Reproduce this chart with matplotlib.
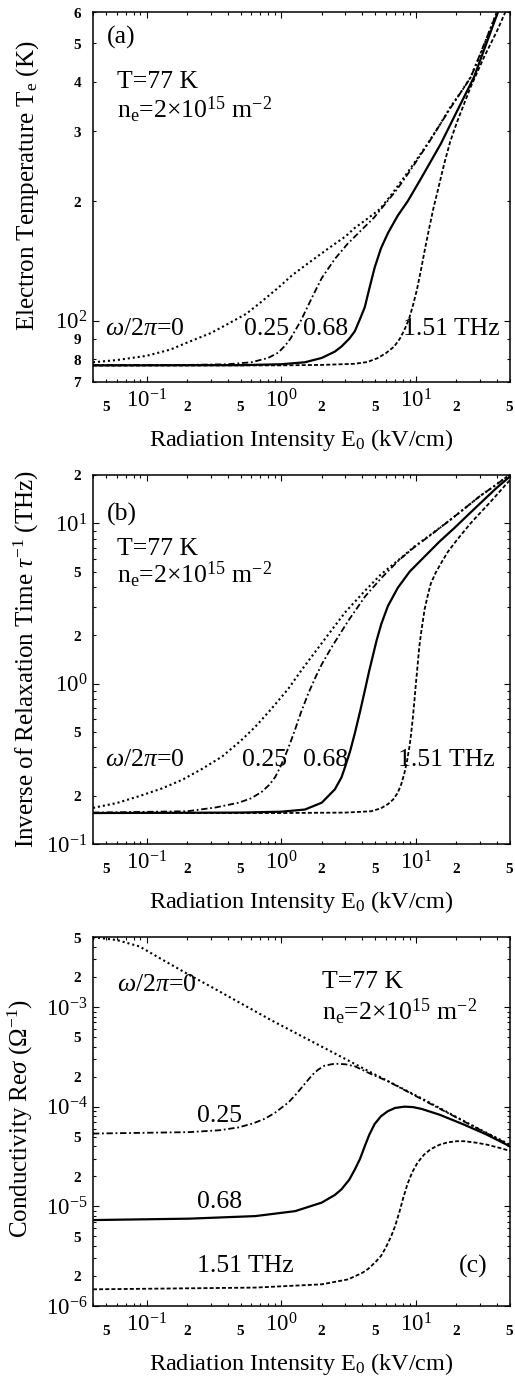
import matplotlib

matplotlib.use("Agg")

import numpy as np
import matplotlib.pyplot as plt
from matplotlib.ticker import LogLocator, FuncFormatter

plt.rcParams["font.family"] = ["Liberation Serif", "DejaVu Serif"]
plt.rcParams["mathtext.fontset"] = "custom"
plt.rcParams["mathtext.rm"] = "Liberation Serif"
plt.rcParams["mathtext.it"] = "Liberation Serif:italic"
plt.rcParams["mathtext.bf"] = "Liberation Serif:bold"

# ---- panel (a): electron temperature (K) vs E0 (kV/cm)
a_w0_E = [0.04, 0.06, 0.1, 0.15, 0.2, 0.3, 0.4, 0.55, 0.7, 0.95, 1.2, 1.7, 2.3, 3.0, 3.5, 4.3, 5.4, 6.6,
          8.2, 10, 12.2, 15, 18, 21.5, 25.5, 31, 37.9, 46]
a_w0_T = [78.5, 79.5, 81.5, 84.5, 88, 93, 98, 104, 111, 121, 130, 142, 153, 163, 171, 180, 191, 208,
          230, 253, 279, 311, 345, 376, 411, 480, 573, 680]
a_w25_E = [0.04, 0.2, 0.4, 0.6, 0.8, 0.95, 1.07, 1.17, 1.27, 1.4, 1.5, 1.75, 2.0, 2.5, 3.1, 4.0, 4.9, 6.0,
           7.3, 9, 12.2, 18, 25.5, 37.9, 46]
a_w25_T = [77.2, 77.3, 77.6, 78.5, 80.5, 83, 86.5, 90, 94.4, 100, 105, 117, 128, 143, 156, 170, 182, 198,
           215, 238, 278, 343, 410, 572, 680]
a_w68_E = [0.04, 0.5, 1.0, 1.5, 2.0, 2.5, 2.8, 3.2, 3.52, 3.85, 4.17, 4.5, 4.94, 5.5, 6.19, 7.34, 8.7,
           10.9, 15.3, 20, 27, 40.2, 46]
a_w68_T = [77.1, 77.2, 77.6, 78.5, 80.5, 83.5, 86, 90, 94, 101, 108, 120, 136, 152, 166, 184, 200,
           228, 279, 335, 411, 593, 680]
a_w151_E = [0.04, 1, 2, 3.5, 4.35, 5.2, 6.0, 6.9, 7.6, 8.2, 8.9, 9.5, 10.2, 10.9, 11.7, 12.6, 13.5, 14.5,
            16.2, 18, 20.3, 25.5, 32, 40.2, 46.2, 52]
a_w151_T = [77.0, 77.1, 77.3, 77.8, 78.6, 80.4, 82.8, 86, 90, 94.6, 101, 109, 120, 134, 152, 172, 192, 212,
            248, 283, 318, 388, 461, 539, 600, 680]

# ---- panel (b): inverse relaxation time (THz)
b_w0_E = [0.04, 0.06, 0.0885, 0.13, 0.185, 0.26, 0.364, 0.5, 0.643, 0.85, 1.13, 1.4, 1.78, 2.36, 3.0,
          4.17, 5.5, 7.34, 9.75, 12.9, 18, 22.8, 30, 38, 45, 50]
b_w0_R = [0.168, 0.18, 0.199, 0.222, 0.252, 0.295, 0.351, 0.44, 0.539, 0.7, 0.93, 1.2, 1.57, 2.15, 2.8,
          3.78, 4.8, 5.85, 7.15, 8.5, 10.5, 12.3, 14.8, 17.0, 18.9, 20.1]
b_w25_E = [0.04, 0.2, 0.326, 0.484, 0.6, 0.719, 0.82, 0.903, 0.98, 1.07, 1.17, 1.27, 1.4, 1.59, 1.8, 2.0,
           2.36, 3.14, 4.2, 5.53, 7.5, 9.75, 12.9, 18, 22.8, 30, 38, 45, 50]
b_w25_R = [0.157, 0.16, 0.169, 0.181, 0.193, 0.212, 0.235, 0.262, 0.3, 0.355, 0.43, 0.52, 0.66, 0.87, 1.1,
           1.32, 1.68, 2.46, 3.5, 4.55, 5.9, 7.1, 8.45, 10.5, 12.3, 14.8, 17.0, 18.9, 20.1]
b_w68_E = [0.04, 0.5, 1.0, 1.5, 2.0, 2.5, 2.8, 2.97, 3.25, 3.52, 3.85, 4.17, 4.5, 4.8, 5.1, 5.53, 6.2,
           7.34, 9, 11.6, 15, 19.2, 25, 32, 40, 46.2, 50]
b_w68_R = [0.156, 0.157, 0.159, 0.164, 0.181, 0.219, 0.26, 0.3, 0.38, 0.49, 0.67, 0.9, 1.2, 1.5, 1.85,
           2.35, 3.05, 3.96, 5.0, 6.2, 7.7, 9.3, 11.5, 14.0, 16.7, 18.5, 19.6]
b_w151_E = [0.04, 1.0, 3.0, 4.66, 5.5, 6.19, 6.8, 7.34, 7.8, 8.22, 8.6, 8.96, 9.2, 9.47, 9.75, 10.0, 10.3,
            10.6, 11.0, 11.6, 12.3, 12.9, 14, 15.5, 17.2, 20, 25.5, 30, 35.8, 42, 46.2, 50]
b_w151_R = [0.156, 0.156, 0.157, 0.160, 0.167, 0.177, 0.19, 0.209, 0.237, 0.277, 0.33, 0.405, 0.48, 0.6,
            0.78, 1.0, 1.3, 1.7, 2.15, 2.9, 3.6, 4.2, 4.9, 5.7, 6.6, 7.8, 10.0, 11.6, 13.6, 15.8, 17.3, 18.6]

# ---- panel (c): conductivity Re sigma (1/Ohm)
c_w0_E = [0.04, 0.06, 0.0885, 0.13, 0.207, 0.3, 0.43, 0.853, 2.0, 4.66, 10.9, 25.5, 50]
c_w0_S = [5.0e-3, 4.7e-3, 4.05e-3, 3.0e-3, 2.1e-3, 1.6e-3, 1.22e-3, 7.3e-4, 4.0e-4, 2.2e-4, 1.22e-4,
          6.6e-5, 4.15e-5]
c_w25_E = [0.04, 0.207, 0.35, 0.484, 0.62, 0.762, 0.9, 1.0, 1.13, 1.3, 1.5, 1.7, 1.88, 2.1, 2.5, 3.0,
           3.52, 4.66, 6.19, 10.9, 25.5, 50]
c_w25_S = [5.37e-5, 5.55e-5, 5.8e-5, 6.2e-5, 6.8e-5, 7.6e-5, 8.7e-5, 9.7e-5, 1.1e-4, 1.35e-4, 1.7e-4,
           2.08e-4, 2.35e-4, 2.58e-4, 2.7e-4, 2.66e-4, 2.54e-4, 2.12e-4, 1.8e-4, 1.2e-4, 6.55e-5, 4.1e-5]
c_w68_E = [0.04, 0.207, 0.643, 1.27, 2.0, 2.5, 2.8, 3.2, 3.52, 3.85, 4.17, 4.5, 4.94, 5.5, 6.19, 7.0,
           8.22, 9.5, 11, 15, 22.8, 33, 50]
c_w68_S = [7.28e-6, 7.52e-6, 7.98e-6, 8.95e-6, 1.09e-5, 1.3e-5, 1.48e-5, 1.85e-5, 2.34e-5, 3.0e-5, 4.0e-5,
           5.2e-5, 6.7e-5, 8.0e-5, 9.0e-5, 9.7e-5, 1.0e-4, 9.9e-5, 9.5e-5, 8.3e-5, 6.6e-5, 5.3e-5, 4.0e-5]
c_w151_E = [0.04, 0.643, 2.0, 3.14, 4.0, 4.41, 5.0, 5.53, 6.0, 6.55, 7.0, 7.55, 8.1, 8.7, 9.4, 10.3,
            11.5, 12.9, 15, 17.2, 20, 22.8, 28, 33.9, 42, 50]
c_w151_S = [1.47e-6, 1.53e-6, 1.65e-6, 1.85e-6, 2.15e-6, 2.35e-6, 2.75e-6, 3.2e-6, 3.9e-6, 5.0e-6, 6.3e-6,
            8.8e-6, 1.25e-5, 1.7e-5, 2.2e-5, 2.75e-5, 3.3e-5, 3.75e-5, 4.15e-5, 4.38e-5, 4.5e-5, 4.5e-5,
            4.35e-5, 4.15e-5, 3.85e-5, 3.6e-5]

x_limits = (0.04, 50)
freq_labels = [r"$\omega/2\pi$=0", "0.25", "0.68", "1.51 THz"]

styles = [
    dict(color="black", lw=1.5, linestyle=(0, (1.0, 1.4))),
    dict(color="black", lw=1.3, linestyle=(0, (3.5, 1.5, 1.0, 1.5))),
    dict(color="black", lw=1.6, linestyle="-"),
    dict(color="black", lw=1.3, linestyle=(0, (2.2, 1.2))),
]

W, H = 515, 1376
fig = plt.figure(figsize=(W / 100, H / 100), dpi=100)


def minor_formatter(keep):
    def fmt(v, pos):
        exp = np.floor(np.log10(v) + 1e-9)
        m = int(round(v / 10 ** exp))
        return r"$\mathbf{%d}$" % m if m in keep else ""
    return FuncFormatter(fmt)


def major_fmt(v, pos):
    return r"$10^{\mathregular{%d}}$" % int(round(np.log10(v)))


def style_axis(ax, ylim, ykeep):
    ax.set_xscale("log")
    ax.set_yscale("log")
    ax.set_xlim(*x_limits)
    ax.set_ylim(*ylim)
    for axis, keep in ((ax.xaxis, (2, 5)), (ax.yaxis, ykeep)):
        axis.set_major_locator(LogLocator(base=10, numticks=20))
        axis.set_minor_locator(LogLocator(base=10, subs=np.arange(2, 10), numticks=100))
        axis.set_major_formatter(FuncFormatter(major_fmt))
        axis.set_minor_formatter(minor_formatter(keep))
    ax.tick_params(which="both", direction="in", top=True, right=True, width=0.8)
    ax.tick_params(which="major", length=4.5, labelsize=16.5)
    ax.tick_params(which="minor", length=2.5, labelsize=11)
    ax.tick_params(axis="x", which="major", pad=5)
    ax.tick_params(axis="x", which="minor", pad=13)
    ax.tick_params(axis="y", which="major", pad=4)
    ax.tick_params(axis="y", which="minor", pad=8)
    for s in ax.spines.values():
        s.set_linewidth(1.1)
    ax.set_xlabel(r"Radiation Intensity E$_0$ (kV/cm)", fontsize=17.5)
    ax.xaxis.set_label_coords(0.5, -0.122)


def frac(px_left, px_bottom, px_w, px_h):
    return [px_left / W, 1 - px_bottom / H, px_w / W, px_h / H]


ax_a = fig.add_axes(frac(93, 382, 417, 370))
ax_b = fig.add_axes(frac(93, 844, 417, 369))
ax_c = fig.add_axes(frac(93, 1306, 417, 368.7))

# panel (a)
for E, T, st in zip([a_w0_E, a_w25_E, a_w68_E, a_w151_E], [a_w0_T, a_w25_T, a_w68_T, a_w151_T], styles):
    ax_a.plot(E, T, **st)
style_axis(ax_a, (70, 600), (2, 3, 4, 5, 6, 7, 8, 9))
ax_a.set_ylabel(r"Electron Temperature T$_\mathrm{e}$ (K)", fontsize=18)
ax_a.yaxis.set_label_coords(-0.125, 0.53)

# panel (b)
for E, R, st in zip([b_w0_E, b_w25_E, b_w68_E, b_w151_E], [b_w0_R, b_w25_R, b_w68_R, b_w151_R], styles):
    ax_b.plot(E, R, **st)
style_axis(ax_b, (0.1, 20), (2, 5))
ax_b.set_ylabel(r"Inverse of Relaxation Time $\tau^{\mathregular{-1}}$ (THz)", fontsize=18)
ax_b.yaxis.set_label_coords(-0.125, 0.5)

# panel (c)
for E, S, st in zip([c_w0_E, c_w25_E, c_w68_E, c_w151_E], [c_w0_S, c_w25_S, c_w68_S, c_w151_S], styles):
    ax_c.plot(E, S, **st)
style_axis(ax_c, (1e-6, 5e-3), (2, 5))
ax_c.set_ylabel(r"Conductivity Re$\sigma$ ($\Omega^{\mathregular{-1}}$)", fontsize=18)
ax_c.yaxis.set_label_coords(-0.14, 0.507)

fs = 18.5
cond1 = "T=77 K"
cond2 = r"n$_\mathrm{e}$=2$\times$10$^{15}$ m$^{\mathregular{-2}}$"

for ax, tag, ty, ny, gy in ((ax_a, "(a)", 0.932, 0.81, 0.735), (ax_b, "(b)", 0.894, 0.80, 0.729)):
    kw = dict(transform=ax.transAxes, va="center", fontsize=fs)
    ax.text(0.034, ty, tag, **kw)
    ax.text(0.058, ny, cond1, **kw)
    ax.text(0.058, gy, cond2, **kw)

for ax, ly, xs in ((ax_a, 0.143, (0.029, 0.362, 0.504, 0.743)), (ax_b, 0.228, (0.029, 0.357, 0.504, 0.731))):
    for x, lab in zip(xs, freq_labels):
        ax.text(x, ly, lab, transform=ax.transAxes, va="center", fontsize=fs)

kw = dict(transform=ax_c.transAxes, va="center", fontsize=fs)
ax_c.text(0.058, 0.87, freq_labels[0], **kw)
ax_c.text(0.249, 0.515, freq_labels[1], **kw)
ax_c.text(0.249, 0.282, freq_labels[2], **kw)
ax_c.text(0.249, 0.108, freq_labels[3], **kw)
ax_c.text(0.548, 0.879, cond1, **kw)
ax_c.text(0.548, 0.797, cond2, **kw)
ax_c.text(0.947, 0.108, "(c)", ha="right", **kw)

fig.savefig("out.png", dpi=100)
